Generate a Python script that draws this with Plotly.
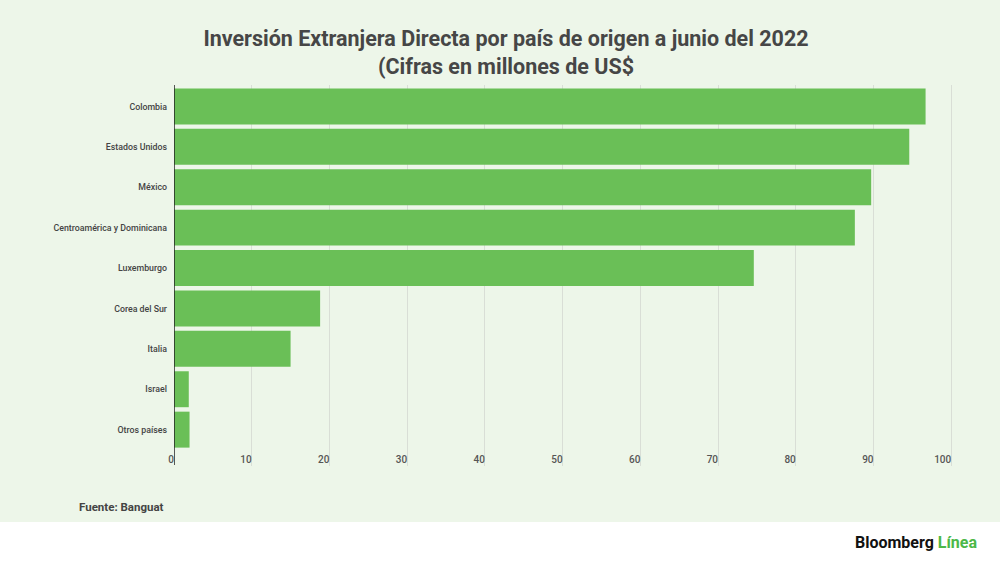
import plotly.graph_objects as go

categories = ["Colombia", "Estados Unidos", "México", "Centroamérica y Dominicana",
              "Luxemburgo", "Corea del Sur", "Italia", "Israel", "Otros países"]
values = [96.7, 94.6, 89.7, 87.6, 74.6, 18.8, 15.0, 1.9, 2.0]
x_ticks = [0, 10, 20, 30, 40, 50, 60, 70, 80, 90, 100]

W, H = 1000, 562
L, R, T, B = 174, 959, 85, 466  # plot area in pixels

def px_x(p):
    return (p - L) / (R - L)

def px_y(p):
    return (B - p) / (B - T)

BG = "#edf6e9"
BAR = "#6abf57"
TXT = "#444444"

fig = go.Figure(go.Bar(
    x=values, y=categories, orientation="h",
    marker=dict(color=BAR, line=dict(width=0)),
    hoverinfo="x+y",
))

fig.update_layout(
    width=W, height=H,
    margin=dict(l=L, r=W - R, t=T, b=H - B, pad=0),
    paper_bgcolor=BG, plot_bgcolor=BG,
    font=dict(family="Roboto", color=TXT),
    bargap=0.11,
    showlegend=False,
    title=dict(
        text="Inversión Extranjera Directa por país de origen a junio del 2022<br>(Cifras en millones de US$",
        x=0.506, xref="container", xanchor="center",
        y=1 - 46 / H, yanchor="top",
        font=dict(family="Roboto", size=21.5, color="#464646", weight="bold"),
    ),
    xaxis=dict(
        range=[0, 101], tickvals=x_ticks, ticktext=[str(v) for v in x_ticks],
        showgrid=True, gridcolor="#d9ded6", gridwidth=1,
        zeroline=False, showline=False,
        ticks="", ticklabelposition="outside left",
        ticklabelstandoff=-14,
        tickfont=dict(size=10, color="#555555", weight=500),
        fixedrange=True,
    ),
    yaxis=dict(
        categoryorder="array", categoryarray=categories,
        range=[8.9, -0.53],
        showgrid=False, zeroline=False,
        showline=False, ticks="",
        tickfont=dict(size=8.8, color=TXT, weight=500),
        ticklabelstandoff=6,
        fixedrange=True,
    ),
    shapes=[
        dict(type="rect", xref="paper", yref="paper",
             x0=px_x(-5), x1=px_x(W + 5), y0=px_y(522), y1=px_y(H + 5),
             fillcolor="white", line=dict(width=0), layer="below"),
        dict(type="line", xref="x", yref="paper",
             x0=0, x1=0, y0=px_y(465), y1=px_y(85),
             line=dict(color="#222222", width=1.5)),
    ],
    annotations=[
        dict(text="<b>Fuente: Banguat</b>", xref="paper", yref="paper",
             x=px_x(77), y=px_y(507), xanchor="left", yanchor="middle",
             showarrow=False, font=dict(family="Roboto", size=11.5, color=TXT)),
        dict(text="<b>Bloomberg <span style='color:#4cb848'>Línea</span></b>",
             xref="paper", yref="paper",
             x=px_x(979), y=px_y(542), xanchor="right", yanchor="middle",
             showarrow=False, font=dict(family="Roboto", size=16, color="#111111")),
    ],
)

fig.write_html("out.html", config={"displayModeBar": False},
               post_script="document.body.style.margin='0';")
